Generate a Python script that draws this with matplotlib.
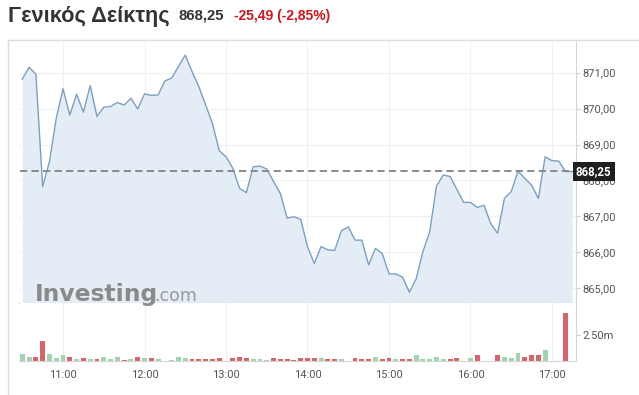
import matplotlib
matplotlib.use("Agg")
import matplotlib.pyplot as plt
import matplotlib.transforms as mtransforms
from matplotlib.lines import Line2D
from matplotlib.ticker import FuncFormatter
import numpy as np

# 5 minute quotes, 10:30 -> 17:15
start_hour = 10.5
step_hours = 5 / 60

price = [870.82, 871.15, 870.96, 867.83, 868.52, 869.73, 870.55, 869.82, 870.40, 869.90,
         870.64, 869.78, 870.04, 870.06, 870.17, 870.10, 870.29, 869.99, 870.41, 870.37,
         870.38, 870.77, 870.85, 871.17, 871.49, 871.03, 870.61, 870.10, 869.59, 868.83,
         868.66, 868.34, 867.78, 867.66, 868.38, 868.40, 868.32, 867.97, 867.64, 866.95,
         866.99, 866.92, 866.16, 865.69, 866.16, 866.07, 866.05, 866.60, 866.71, 866.34,
         866.34, 865.65, 866.11, 865.97, 865.40, 865.40, 865.31, 864.89, 865.26, 866.02,
         866.57, 867.85, 868.15, 868.11, 867.75, 867.39, 867.39, 867.25, 867.31, 866.79,
         866.53, 867.50, 867.69, 868.26, 868.06, 867.87, 867.50, 868.66, 868.55, 868.54,
         868.25, 868.25]

# volume in millions
volume_m = [0.70, 0.38, 0.38, 1.93, 0.67, 0.29, 0.60, 0.38, 0.19, 0.29,
            0.19, 0.19, 0.38, 0.19, 0.38, 0.13, 0.19, 0.38, 0.29, 0.29,
            0.19, 0.06, 0.13, 0.38, 0.29, 0.19, 0.19, 0.19, 0.19, 0.29,
            0.06, 0.29, 0.38, 0.29, 0.19, 0.19, 0.13, 0.29, 0.19, 0.19,
            0.13, 0.29, 0.29, 0.29, 0.29, 0.19, 0.19, 0.19, 0.06, 0.29,
            0.19, 0.19, 0.38, 0.19, 0.29, 0.19, 0.19, 0.19, 0.60, 0.19,
            0.19, 0.38, 0.19, 0.19, 0.29, 0.06, 0.29, 0.60, 0.06, 0.06,
            0.60, 0.44, 0.29, 0.76, 0.38, 0.57, 0.57, 1.08, 0.0, 0.0,
            4.56, 0.0]
vol_up = [1, 1, 0, 0, 1, 1, 1, 0, 1, 0,
          1, 0, 1, 1, 1, 0, 1, 0, 1, 0,
          1, 1, 1, 1, 1, 0, 0, 0, 0, 0,
          0, 0, 0, 0, 1, 1, 1, 0, 0, 0,
          0, 0, 0, 0, 1, 0, 0, 1, 1, 0,
          0, 0, 1, 0, 0, 1, 0, 0, 1, 1,
          1, 1, 1, 0, 0, 0, 1, 0, 1, 0,
          0, 1, 1, 1, 0, 0, 0, 1, 0, 0,
          0, 0]

hour_ticks = [11, 12, 13, 14, 15, 16, 17]
hour_labels = ["11:00", "12:00", "13:00", "14:00", "15:00", "16:00", "17:00"]
price_ticks = [865, 866, 867, 868, 869, 870, 871]
vol_ticks = [2.5]
vol_labels = ["2.50m"]

title = "Γενικός Δείκτης"
last_price = 868.25
change = -25.49
change_pct = -2.85

W, H = 639, 395
line_col = "#7b9fc4"
fill_col = "#e4edf6"
grid_col = "#eef0f2"
text_col = "#555555"
up_col = "#a3d4b1"
down_col = "#d7646a"


def fx(px):
    return px / W


def fy(py):
    return 1 - py / H


def greek_num(v):
    return f"{v:.2f}".replace(".", ",")


hours = start_hour + np.arange(len(price)) * step_hours
x_lo = start_hour - 0.41 * step_hours
x_hi = start_hour + 81.54 * step_hours
y_lo, y_hi = 864.59, 871.854

fig = plt.figure(figsize=(W / 100, H / 100), dpi=100)
fig.patch.set_facecolor("white")

left, right = fx(19.5), fx(576)
ax = fig.add_axes([left, fy(303), right - left, fy(42) - fy(303)])
axv = fig.add_axes([left, fy(361.3), right - left, fy(303) - fy(361.3)], sharex=ax)

# price panel
ax.fill_between(hours, price, y_lo, color=fill_col, lw=0, zorder=1)
ax.plot(hours, price, color=line_col, lw=1.0, zorder=3)
plt.rcParams["lines.scale_dashes"] = False
ax.axhline(last_price, color="#8a8a8a", lw=1.4, dashes=(5.2, 3.1), zorder=4)
ax.set_xlim(x_lo, x_hi)
ax.set_ylim(y_lo, y_hi)
ax.set_yticks(price_ticks)
ax.yaxis.set_major_formatter(FuncFormatter(lambda v, p: greek_num(v)))
ax.yaxis.tick_right()
ax.set_xticks(hour_ticks)
ax.tick_params(axis="x", length=0, labelbottom=False)
ax.tick_params(axis="y", length=3, width=0.8, color="#cccccc", pad=1.5,
               labelsize=8, labelcolor=text_col)
ax.grid(True, color=grid_col, lw=0.8, zorder=0)
ax.set_axisbelow(True)
for s in ["left", "top"]:
    ax.spines[s].set_visible(False)
ax.spines["right"].set_color("#d5d5d5")
ax.spines["bottom"].set_color("#c8c8c8")
ax.spines["right"].set_linewidth(0.8)
ax.spines["bottom"].set_linewidth(0.8)
for lab in ax.get_yticklabels():
    lab.set_family("Roboto")

# last price tag
trans = mtransforms.blended_transform_factory(ax.transAxes, ax.transData)
ax.text(1.0, last_price, greek_num(last_price), transform=trans, ha="left", va="center",
        color="white", fontsize=8.3, fontweight="bold", family="Roboto", clip_on=False,
        zorder=10,
        bbox=dict(boxstyle="square,pad=0.28", fc="#1f1f1f", ec="none"))

# volume panel
axv.bar(hours, volume_m, width=0.06,
        color=[up_col if u else down_col for u in vol_up], lw=0, zorder=2)
axv.set_ylim(0, 5.51)
axv.set_yticks(vol_ticks)
axv.set_yticklabels(vol_labels)
axv.yaxis.tick_right()
axv.set_xticks(hour_ticks)
axv.set_xticklabels(hour_labels)
axv.tick_params(axis="x", length=0, pad=6, labelsize=8, labelcolor=text_col)
axv.tick_params(axis="y", length=3, width=0.8, color="#cccccc", pad=1.5,
                labelsize=8, labelcolor=text_col)
axv.grid(True, axis="x", color=grid_col, lw=0.8, zorder=0)
axv.set_axisbelow(True)
for s in ["left", "top"]:
    axv.spines[s].set_visible(False)
axv.spines["right"].set_color("#d5d5d5")
axv.spines["bottom"].set_color("#d5d5d5")
axv.spines["right"].set_linewidth(0.8)
axv.spines["bottom"].set_linewidth(0.8)
for lab in axv.get_xticklabels() + axv.get_yticklabels():
    lab.set_family("Roboto")

# card frame
fig.add_artist(Line2D([fx(8), 1], [fy(39.5), fy(39.5)], color="#dddddd", lw=1))
fig.add_artist(Line2D([fx(8), fx(8)], [fy(39.5), 0], color="#dddddd", lw=1))

# header
fig.text(fx(8), fy(22), title, fontsize=15.7, fontweight="bold", color="#333333",
         family="Liberation Sans", va="baseline")
fig.text(fx(178), fy(20), greek_num(last_price), fontsize=10.7, fontweight="bold",
         color="#333333", family="Liberation Sans", va="baseline")
fig.text(fx(234), fy(20), f"{greek_num(change)} ({greek_num(change_pct)}%)", fontsize=10,
         fontweight="bold", color="#d0161e", family="Liberation Sans", va="baseline")

# watermark
fig.text(fx(35), fy(301), "Investing", fontsize=16.8, fontweight="bold", color="#8a8a8a",
         family="DejaVu Sans", va="baseline", zorder=20)
fig.text(fx(154), fy(301), ".com", fontsize=12.5, color="#999999",
         family="DejaVu Sans", va="baseline", zorder=20)

fig.savefig("out.png", dpi=100)
